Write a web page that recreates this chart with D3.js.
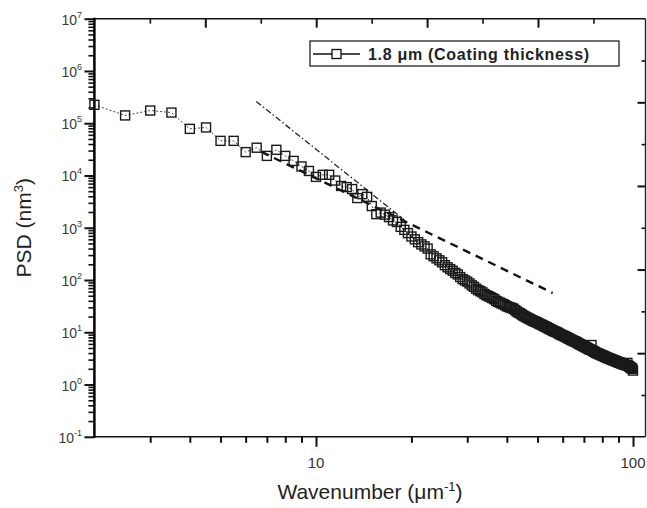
<!DOCTYPE html>
<html><head><meta charset="utf-8">
<script src="https://cdn.jsdelivr.net/npm/d3@7"></script>
<style>body{margin:0;background:#fff}</style>
</head><body><svg id="c" width="647" height="508"></svg>
<script>
// ---- data ----
const wavenumber = [2,2.5,3,3.5,4,4.5,5,5.5,6,6.5,7,7.5,8,8.5,9,9.5,10,10.5,11,11.5,12,12.5,13,13.5,14,14.5,15,15.5,16,16.5,17,17.5,18,18.5,19,19.5,20,20.5,21,21.5,22,22.5,23,23.5,24,24.5,25,25.5,26,26.5,27,27.5,28,28.5,29,29.5,30,30.5,31,31.5,32,32.5,33,33.5,34,34.5,35,35.5,36,36.5,37,37.5,38,38.5,39,39.5,40,40.5,41,41.5,42,42.5,43,43.5,44,44.5,45,45.5,46,46.5,47,47.5,48,48.5,49,49.5,50,50.5,51,51.5,52,52.5,53,53.5,54,54.5,55,55.5,56,56.5,57,57.5,58,58.5,59,59.5,60,60.5,61,61.5,62,62.5,63,63.5,64,64.5,65,65.5,66,66.5,67,67.5,68,68.5,69,69.5,70,70.5,71,71.5,72,72.5,73,73.5,74,74.5,75,75.5,76,76.5,77,77.5,78,78.5,79,79.5,80,80.5,81,81.5,82,82.5,83,83.5,84,84.5,85,85.5,86,86.5,87,87.5,88,88.5,89,89.5,90,90.5,91,91.5,92,92.5,93,93.5,94,94.5,95,95.5,96,96.5,97,97.5,98,98.5,99,99.5,100];
const psd = [2.25e5,1.41e5,1.75e5,1.6e5,7.8e4,8.3e4,4.6e4,4.6e4,2.8e4,3.4e4,2.37e4,3.1e4,2.37e4,1.9e4,1.49e4,1.22e4,9.4e3,1.03e4,1.03e4,8.0e3,6.3e3,6.0e3,5.5e3,3.7e3,4.4e3,3.9e3,2.6e3,1.82e3,1.95e3,1.78e3,1.6e3,1.38e3,1.29e3,1040,910,790,680,600,530,480,440,400,310,285,260,238,218,192,175,162,150,137,128,114,104,98,93,86,79,74,68,64,61,58,54,51,49,47,45,43,40,38.4,37,35.5,34.5,33,31.5,30.5,29.8,29,28.2,26.5,25,23.8,23.2,22,21,20.2,19.5,18.8,18.2,17.6,17,16.5,16,15.7,15.2,14.7,14.3,13.9,13.5,13.1,12.7,12.4,12.0,11.6,11.3,11.0,10.7,10.4,10.2,10.0,9.7,9.4,9.1,8.9,8.7,8.5,8.3,8.1,7.9,7.7,7.5,7.3,7.1,7.0,6.8,6.7,6.55,6.4,6.2,6.05,5.9,5.8,5.65,5.5,5.4,5.3,5.15,5.05,4.9,4.8,4.7,4.6,5.7,4.45,4.35,4.25,4.15,4.05,3.98,3.9,3.85,3.8,3.72,3.65,3.6,3.55,3.48,3.42,3.36,3.3,3.25,3.2,3.15,3.12,3.08,3.02,2.98,2.94,2.9,2.86,2.82,2.78,2.74,2.7,2.66,2.63,2.6,2.56,2.53,2.5,2.47,2.44,2.41,2.38,2.36,2.33,2.6,2.3,2.25,2.2,2.15,2.1,2.05,2.0,1.85];
const steepFitK = [6.48, 19.0];
const steepFitPSD = [2.61e5, 1.41e3];
const fitK = [6.73, 55.8];
const fitPSD = [2.83e4, 56.4];
const xMajorTicks = [10, 100];
const xMinorTicks = [3,4,5,6,7,8,9,20,30,40,50,60,70,80,90];
const yExponents = [-1,0,1,2,3,4,5,6,7];
const legendLabel = "1.8 \u03bcm (Coating thickness)";

// ---- chart ----
const svg = d3.select("#c");
const L = 94.4, R = 645.5, T = 18.7, B = 436.8;
const x = d3.scaleLog().domain([2, 109.5]).range([L, R]);
const y = d3.scaleLog().domain([0.1, 1e7]).range([B, T]);
const font = "Arial, 'Liberation Sans', sans-serif";

const yMajor = yExponents.map(e => Math.pow(10, e));
const yMinor = [];
yExponents.slice(0, -1).forEach(e => { for (let m = 2; m <= 9; m++) yMinor.push(m * Math.pow(10, e)); });

function styleAxis(g, w) {
  g.select(".domain").remove();
  g.selectAll(".tick line").attr("stroke", "#111").attr("stroke-width", w);
  g.selectAll(".tick text").remove();
}
// bottom
svg.append("g").attr("transform", `translate(0,${B})`)
  .call(d3.axisBottom(x).tickValues(xMajorTicks).tickSize(10).tickFormat(""))
  .call(g => styleAxis(g, 2));
svg.append("g").attr("transform", `translate(0,${B})`)
  .call(d3.axisBottom(x).tickValues(xMinorTicks).tickSize(6).tickFormat(""))
  .call(g => styleAxis(g, 2));
// left
svg.append("g").attr("transform", `translate(${L},0)`)
  .call(d3.axisLeft(y).tickValues(yMajor).tickSize(10).tickFormat(""))
  .call(g => styleAxis(g, 2));
svg.append("g").attr("transform", `translate(${L},0)`)
  .call(d3.axisLeft(y).tickValues(yMinor).tickSize(6).tickFormat(""))
  .call(g => styleAxis(g, 1.6));
// top (independent linear layer)
const xTop = d3.scaleLinear().domain([0, (R - L) / 110.9]).range([L, R]);
svg.append("g").attr("transform", `translate(0,${T})`)
  .call(d3.axisBottom(xTop).tickValues([1,2,3,4]).tickSize(9).tickFormat(""))
  .call(g => styleAxis(g, 2));
svg.append("g").attr("transform", `translate(0,${T})`)
  .call(d3.axisBottom(xTop).tickValues([0.5,1.5,2.5,3.5,4.5]).tickSize(5).tickFormat(""))
  .call(g => styleAxis(g, 1.6));
// right (independent linear layer)
const yRight = d3.scaleLinear().domain([0, 5]).range([B, T]);
svg.append("g").attr("transform", `translate(${R},0)`)
  .call(d3.axisLeft(yRight).tickValues([1,2,3,4]).tickSize(8).tickFormat(""))
  .call(g => styleAxis(g, 2));
svg.append("g").attr("transform", `translate(${R},0)`)
  .call(d3.axisLeft(yRight).tickValues([0.5,1.5,2.5,3.5,4.5]).tickSize(4).tickFormat(""))
  .call(g => styleAxis(g, 1.6));

// frame
svg.append("line").attr("x1", L).attr("x2", R).attr("y1", T).attr("y2", T).attr("stroke", "#111").attr("stroke-width", 1.6);
svg.append("line").attr("x1", L).attr("x2", R).attr("y1", B).attr("y2", B).attr("stroke", "#111").attr("stroke-width", 1.6);
svg.append("line").attr("x1", R).attr("x2", R).attr("y1", T).attr("y2", B).attr("stroke", "#222").attr("stroke-width", 1.4);
svg.append("line").attr("x1", L).attr("x2", L).attr("y1", T - 1).attr("y2", B + 1).attr("stroke", "#000").attr("stroke-width", 2.5);

// tick labels
xMajorTicks.forEach(v => {
  svg.append("text").attr("x", x(v)).attr("y", B + 31).attr("text-anchor", "middle")
    .attr("font-family", font).attr("font-size", 15).attr("fill", "#333").text(v);
});
yExponents.forEach(e => {
  const t = svg.append("text").attr("x", 82).attr("y", y(Math.pow(10, e)) + 6).attr("text-anchor", "end")
    .attr("font-family", font).attr("font-size", 14).attr("fill", "#3a3a3a");
  t.append("tspan").text("10");
  t.append("tspan").attr("dy", -7).attr("font-size", 9).text(e);
});

// axis titles
const xt = svg.append("text").attr("x", (L + R) / 2).attr("y", 499).attr("text-anchor", "middle")
  .attr("font-family", font).attr("font-size", 21).attr("fill", "#222");
xt.append("tspan").text("Wavenumber (\u03bcm");
xt.append("tspan").attr("dy", -8).attr("font-size", 13).text("-1");
xt.append("tspan").attr("dy", 8).text(")");
const yt = svg.append("text").attr("transform", `translate(31,${(T + B) / 2}) rotate(-90)`).attr("text-anchor", "middle")
  .attr("font-family", font).attr("font-size", 21).attr("fill", "#222");
yt.append("tspan").text("PSD (nm");
yt.append("tspan").attr("dy", -8).attr("font-size", 13).text("3");
yt.append("tspan").attr("dy", 8).text(")");

// fit lines
const lineGen = d3.line().x(d => x(d[0])).y(d => y(d[1]));
svg.append("path").datum(steepFitK.map((k, i) => [k, steepFitPSD[i]])).attr("d", lineGen)
  .attr("fill", "none").attr("stroke", "#222").attr("stroke-width", 1.3).attr("stroke-dasharray", "6,2.5,1.5,2.5");
svg.append("path").datum(fitK.map((k, i) => [k, fitPSD[i]])).attr("d", lineGen)
  .attr("fill", "none").attr("stroke", "#111").attr("stroke-width", 2.4).attr("stroke-dasharray", "8,6");

// data
const pts = wavenumber.map((k, i) => [k, psd[i]]);
svg.append("path").datum(pts).attr("d", lineGen).attr("fill", "none")
  .attr("stroke", "#444").attr("stroke-width", 1).attr("stroke-dasharray", "2,2");
const s = 9;
svg.append("g").selectAll("rect").data(pts).join("rect")
  .attr("x", d => x(d[0]) - s / 2).attr("y", d => y(d[1]) - s / 2)
  .attr("width", s).attr("height", s).attr("fill", "none")
  .attr("stroke", "#1a1a1a").attr("stroke-width", 1.4);

// legend
svg.append("rect").attr("x", 310).attr("y", 41).attr("width", 309).attr("height", 25)
  .attr("fill", "#fff").attr("stroke", "#222").attr("stroke-width", 1.3);
svg.append("line").attr("x1", 313).attr("x2", 360).attr("y1", 54).attr("y2", 54).attr("stroke", "#111").attr("stroke-width", 1.4);
svg.append("rect").attr("x", 336.5 - 4.5).attr("y", 54 - 4.5).attr("width", 9).attr("height", 9)
  .attr("fill", "#fff").attr("stroke", "#111").attr("stroke-width", 1.3);
svg.append("text").attr("x", 368).attr("y", 60).attr("font-family", font).attr("font-size", 16)
  .attr("font-weight", "bold").attr("letter-spacing", 0.7).attr("fill", "#222").text(legendLabel);
</script></body></html>
